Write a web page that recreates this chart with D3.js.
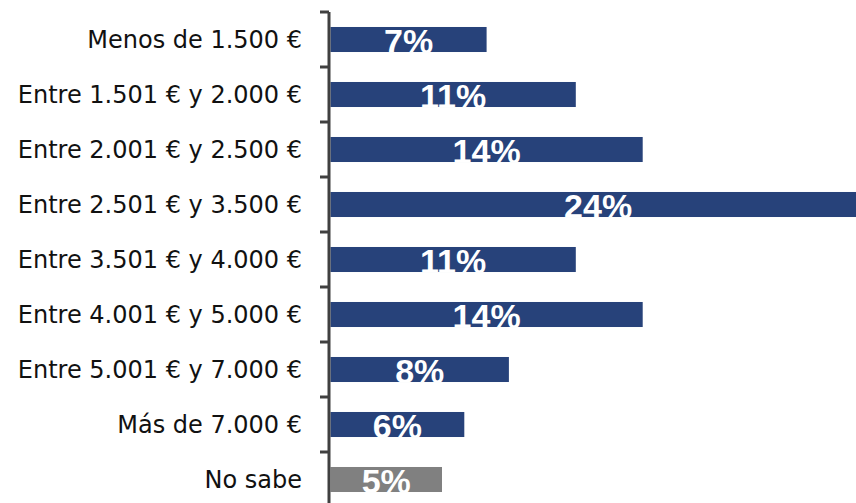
<!DOCTYPE html>
<html>
<head>
<meta charset="utf-8">
<script src="https://cdn.jsdelivr.net/npm/d3@7"></script>
<style>
  html, body { margin: 0; padding: 0; background: #fff; }
  svg { display: block; }
</style>
</head>
<body>
<svg id="chart" width="856" height="503"></svg>
<script>
// Income brackets and share of respondents (%)
const categories = [
  "Menos de 1.500 €",
  "Entre 1.501 € y 2.000 €",
  "Entre 2.001 € y 2.500 €",
  "Entre 2.501 € y 3.500 €",
  "Entre 3.501 € y 4.000 €",
  "Entre 4.001 € y 5.000 €",
  "Entre 5.001 € y 7.000 €",
  "Más de 7.000 €",
  "No sabe"
];
const values = [7, 11, 14, 24, 11, 14, 8, 6, 5];
const valueLabels = values.map(v => v + "%");
const barColors = ["#27427a", "#27427a", "#27427a", "#27427a", "#27427a", "#27427a", "#27427a", "#27427a", "#808080"];

const svg = d3.select("#chart");
const axisX = 329;

const y = d3.scaleBand()
  .domain(categories)
  .range([12, 507])
  .paddingInner(0.545)
  .paddingOuter(0.2725);

const x = d3.scaleLinear()
  .domain([0, 24])
  .range([axisX + 1.5, axisX + 1.5 + 24 * 22.3]);

// Bars, each with its value label clipped to the bar
const defs = svg.append("defs");
const bars = svg.append("g");
categories.forEach((c, i) => {
  const bx = x(0), by = y(c), bw = x(values[i]) - x(0), bh = y.bandwidth();
  defs.append("clipPath").attr("id", "clip" + i)
    .append("rect").attr("x", bx).attr("y", by).attr("width", bw).attr("height", bh);
  bars.append("rect")
    .attr("x", bx).attr("y", by).attr("width", bw).attr("height", bh)
    .attr("fill", barColors[i]);
  bars.append("text")
    .attr("clip-path", "url(#clip" + i + ")")
    .attr("x", bx + bw / 2)
    .attr("y", by + bh + 1)
    .attr("text-anchor", "middle")
    .attr("font-family", "Liberation Sans, Arial, sans-serif")
    .attr("font-weight", "bold")
    .attr("font-size", 34)
    .attr("fill", "#ffffff")
    .text(valueLabels[i]);
});

// Category axis with ticks between categories
const axis = svg.append("g");
axis.append("line")
  .attr("x1", axisX).attr("x2", axisX)
  .attr("y1", y.range()[0]).attr("y2", y.range()[1])
  .attr("stroke", "#404040").attr("stroke-width", 3);
d3.range(categories.length + 1).forEach(i => {
  const ty = y.range()[0] + i * y.step();
  axis.append("line")
    .attr("x1", axisX - 9).attr("x2", axisX)
    .attr("y1", ty).attr("y2", ty)
    .attr("stroke", "#404040").attr("stroke-width", 3);
});
axis.selectAll("text.cat")
  .data(categories)
  .join("text")
  .attr("class", "cat")
  .attr("x", 302)
  .attr("y", d => y(d) + y.bandwidth() / 2)
  .attr("dy", "0.36em")
  .attr("text-anchor", "end")
  .attr("font-family", "DejaVu Sans, sans-serif")
  .attr("font-size", 24)
  .attr("fill", "#111")
  .text(d => d);
</script>
</body>
</html>
